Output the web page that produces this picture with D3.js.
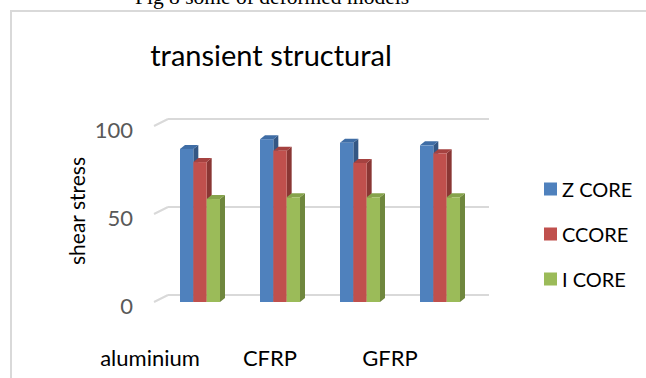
<!DOCTYPE html>
<html>
<head>
<meta charset="utf-8">
<script src="https://cdn.jsdelivr.net/npm/d3@7"></script>
<style>
  html, body { margin: 0; padding: 0; background: #fff; }
  svg { display: block; }
  text { font-family: Lato, "Open Sans", sans-serif; }
</style>
</head>
<body>
<svg id="chart" width="646" height="378"></svg>
<script>
// Shear stress per core type, four material groups
const groups = ["g1", "g2", "g3", "g4"];
const axisLabels = ["aluminium", "CFRP", "GFRP"];
const seriesNames = ["Z CORE", "CCORE", "I CORE"];
const zCore = [87, 92.5, 90.5, 89];
const cCore = [79.5, 86, 79, 84.5];
const iCore = [58.5, 59.5, 59.5, 59.5];
const yTicks = [0, 50, 100];

const seriesValues = [zCore, cCore, iCore];
const faceColors = [
  { front: "#4F81BD", side: "#345784", top: "#3F6DA5" },
  { front: "#C0504D", side: "#8A3634", top: "#A54240" },
  { front: "#9BBB59", side: "#6F873D", top: "#86A34B" }
];

const svg = d3.select("#chart");

// outer chart frame
svg.append("rect")
  .attr("x", 11).attr("y", 11)
  .attr("width", 700).attr("height", 400)
  .attr("fill", "none").attr("stroke", "#d9d9d9").attr("stroke-width", 2);

// caption above the frame (partly above the page edge)
svg.append("text")
  .attr("x", 272).attr("y", 4)
  .attr("text-anchor", "middle")
  .style("font-family", "'Liberation Serif', serif")
  .style("font-size", "21.5px")
  .attr("fill", "#000")
  .text("Fig 8 some of deformed models");

// chart title
svg.append("text")
  .attr("x", 271).attr("y", 66)
  .attr("text-anchor", "middle")
  .style("font-size", "29px")
  .attr("fill", "#000")
  .text("transient structural");

// scales (front plane)
const y = d3.scaleLinear().domain([0, 100]).range([302, 126]);
const x = d3.scaleBand().domain(groups).range([160, 480])
  .paddingInner(0.5).paddingOuter(0.25);
const xs = d3.scaleBand().domain(seriesNames).range([0, x.bandwidth()]);
const xLabel = d3.scalePoint().domain(axisLabels).range([150, 390]);

// depth offsets
const wallDx = 14, wallDy = -7;
const barDx = 5, barDy = -4;
const wallLeft = 154;
const wallRight = 489;

// back wall gridlines with floor diagonals
const grid = svg.append("g");
yTicks.forEach(t => {
  grid.append("line")
    .attr("x1", wallLeft).attr("y1", y(t))
    .attr("x2", wallLeft + wallDx).attr("y2", y(t) + wallDy)
    .attr("stroke", "#d9d9d9").attr("stroke-width", 2);
  grid.append("line")
    .attr("x1", wallLeft + wallDx).attr("y1", y(t) + wallDy)
    .attr("x2", wallRight).attr("y2", y(t) + wallDy)
    .attr("stroke", "#d9d9d9").attr("stroke-width", 2);
});

// y tick labels
svg.append("g").selectAll("text")
  .data(yTicks).join("text")
  .attr("x", 133).attr("y", d => y(d) + 3)
  .attr("text-anchor", "end")
  .attr("dominant-baseline", "central")
  .style("font-size", "22px")
  .attr("fill", "#595959")
  .text(d => d);

// y axis title
svg.append("text")
  .attr("transform", "translate(76,211) rotate(-90)")
  .attr("text-anchor", "middle")
  .attr("dominant-baseline", "central")
  .style("font-size", "21px")
  .attr("fill", "#000")
  .text("shear stress");

// 3D bars: side, top and front faces
const bars = svg.append("g");
groups.forEach((g, gi) => {
  seriesNames.forEach((s, si) => {
    const v = seriesValues[si][gi];
    const x0 = x(g) + xs(s);
    const x1 = x0 + xs.bandwidth();
    const y0 = y(0), y1 = y(v);
    const c = faceColors[si];
    const bar = bars.append("g");
    bar.append("path")
      .attr("d", `M${x1},${y1}L${x1 + barDx},${y1 + barDy}L${x1 + barDx},${y0 + barDy}L${x1},${y0}Z`)
      .attr("fill", c.side);
    bar.append("path")
      .attr("d", `M${x0},${y1}L${x0 + barDx},${y1 + barDy}L${x1 + barDx},${y1 + barDy}L${x1},${y1}Z`)
      .attr("fill", c.top);
    bar.append("rect")
      .attr("x", x0).attr("y", y1)
      .attr("width", xs.bandwidth()).attr("height", y0 - y1)
      .attr("fill", c.front);
  });
});

// category labels
svg.append("g").selectAll("text")
  .data(axisLabels).join("text")
  .attr("x", d => xLabel(d)).attr("y", 366)
  .attr("text-anchor", "middle")
  .style("font-size", "22px")
  .attr("fill", "#000")
  .text(d => d);

// legend
const legendY = d3.scalePoint().domain(seriesNames).range([189, 279]);
const legend = svg.append("g");
seriesNames.forEach((s, si) => {
  legend.append("rect")
    .attr("x", 544).attr("y", legendY(s) - 6.5)
    .attr("width", 13).attr("height", 13)
    .attr("fill", faceColors[si].front);
  legend.append("text")
    .attr("x", 562).attr("y", legendY(s))
    .attr("dominant-baseline", "central")
    .style("font-size", "20px")
    .attr("fill", "#000")
    .text(s);
});
</script>
</body>
</html>
